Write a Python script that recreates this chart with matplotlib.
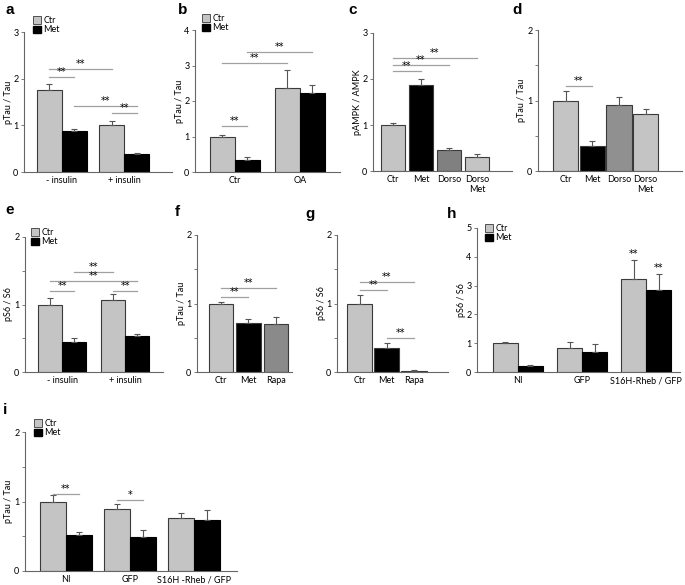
import matplotlib

matplotlib.use("Agg")
import matplotlib.pyplot as plt
import numpy as np
from matplotlib.patches import Patch

plt.rcParams["font.family"] = ["Lato", "DejaVu Sans"]

# ---- données ----
a_groups = ["- insulin", "+ insulin"]
a_ctr, a_ctr_err = [1.75, 1.00], [0.13, 0.10]
a_met, a_met_err = [0.88, 0.38], [0.05, 0.03]
a_sig = [(0, 1, 2.04, "**"), (0, 2, 2.20, "**"), (1, 3, 1.41, "**"), (2, 3, 1.26, "**")]

b_groups = ["Ctr", "OA"]
b_ctr, b_ctr_err = [1.00, 2.37], [0.05, 0.50]
b_met, b_met_err = [0.35, 2.23], [0.07, 0.23]
b_sig = [(0, 1, 1.30, "**"), (0, 2, 3.07, "**"), (1, 3, 3.38, "**")]

c_cats = ["Ctr", "Met", "Dorso", "Dorso\nMet"]
c_vals, c_errs = [1.00, 1.87, 0.45, 0.31], [0.04, 0.13, 0.05, 0.05]
c_sig = [(0, 1, 2.17, "**"), (0, 2, 2.30, "**"), (0, 3, 2.46, "**")]

d_cats = ["Ctr", "Met", "Dorso", "Dorso\nMet"]
d_vals, d_errs = [1.00, 0.35, 0.93, 0.81], [0.13, 0.08, 0.12, 0.07]
d_sig = [(0, 1, 1.21, "**")]

e_groups = ["- insulin", "+ insulin"]
e_ctr, e_ctr_err = [1.00, 1.07], [0.10, 0.08]
e_met, e_met_err = [0.45, 0.53], [0.05, 0.04]
e_sig = [(0, 1, 1.20, "**"), (2, 3, 1.20, "**"), (0, 3, 1.35, "**"), (1, 2, 1.475, "**")]

f_cats = ["Ctr", "Met", "Rapa"]
f_vals, f_errs = [1.00, 0.71, 0.70], [0.02, 0.06, 0.10]
f_sig = [(0, 1, 1.10, "**"), (0, 2, 1.23, "**")]

g_cats = ["Ctr", "Met", "Rapa"]
g_vals, g_errs = [1.00, 0.35, 0.02], [0.12, 0.08, 0.01]
g_sig = [(0, 1, 1.20, "**"), (0, 2, 1.32, "**"), (1, 2, 0.50, "**")]

h_groups = ["NI", "GFP", "S16H-Rheb / GFP"]
h_ctr, h_ctr_err = [1.00, 0.85, 3.22], [0.03, 0.18, 0.67]
h_met, h_met_err = [0.20, 0.68, 2.85], [0.03, 0.28, 0.55]
h_stars = [(4, "**"), (5, "**")]

i_groups = ["NI", "GFP", "S16H -Rheb / GFP"]
i_ctr, i_ctr_err = [1.00, 0.89, 0.76], [0.09, 0.08, 0.07]
i_met, i_met_err = [0.52, 0.49, 0.74], [0.04, 0.10, 0.14]
i_sig = [(0, 1, 1.105, "**"), (2, 3, 1.02, "*")]

# ---- style ----
LIGHT = "#c4c4c4"
MID = "#8a8a8a"
EDGE = "#3a3a3a"
AXC = "#666666"
ERR = "#555555"
SIGC = "#a0a0a0"
W, H = 685, 585


def make_ax(fig, x0, x1, ytop, ybot):
    return fig.add_axes([x0 / W, 1 - ybot / H, (x1 - x0) / W, (ybot - ytop) / H])


def style(ax, ymax, step, ylabel, xlim):
    ax.set_ylim(0, ymax)
    ax.set_xlim(*xlim)
    for s in ("top", "right"):
        ax.spines[s].set_visible(False)
    for s in ("left", "bottom"):
        ax.spines[s].set_color(AXC)
        ax.spines[s].set_linewidth(0.8)
    ticks = np.arange(0, ymax + 1e-9, step)
    ax.set_yticks(ticks)
    ax.set_yticklabels([f"{t:g}" if float(t).is_integer() else "" for t in ticks])
    ax.tick_params(axis="y", length=2.5, width=0.6, color=AXC, labelsize=6.5, pad=1.5)
    ax.tick_params(axis="x", length=0, labelsize=6.5, pad=3)
    ax.set_ylabel(ylabel, fontsize=6.5, labelpad=0.5)


def errs(ax, x, v, e):
    ax.errorbar(x, v, yerr=[np.zeros(len(v)), e], fmt="none", ecolor=ERR,
                elinewidth=0.8, capsize=2, capthick=0.8)


def grouped(ax, groups, ctr, ctr_err, met, met_err, width):
    x = np.arange(len(groups))
    xc, xm = x - width / 2, x + width / 2
    ax.bar(xc, ctr, width, color=LIGHT, edgecolor=EDGE, linewidth=0.8)
    ax.bar(xm, met, width, color="black", edgecolor="black", linewidth=0.8)
    errs(ax, xc, ctr, ctr_err)
    errs(ax, xm, met, met_err)
    ax.set_xticks(x)
    ax.set_xticklabels(groups)
    return np.column_stack([xc, xm]).ravel()


def single(ax, cats, vals, vals_err, colors, width):
    x = np.arange(len(cats))
    ax.bar(x, vals, width, color=colors, edgecolor=EDGE, linewidth=0.8)
    errs(ax, x, vals, vals_err)
    ax.set_xticks(x)
    ax.set_xticklabels(cats, linespacing=1.1)
    return x


def stars(ax, x, y, txt):
    ax.text(x, y, txt, ha="center", va="bottom", fontsize=7, family="DejaVu Sans")


def sig(ax, centers, marks):
    for i, j, y, txt in marks:
        ax.plot([centers[i], centers[j]], [y, y], color=SIGC, lw=0.9)
        stars(ax, (centers[i] + centers[j]) / 2, y, txt)


def legend(ax, fig, x, y):
    handles = [Patch(facecolor=LIGHT, edgecolor=EDGE, linewidth=0.6, label="Ctr"),
               Patch(facecolor="black", edgecolor="black", label="Met")]
    ax.legend(handles=handles, loc="upper left", bbox_to_anchor=(x / W, 1 - y / H),
              bbox_transform=fig.transFigure, frameon=False, fontsize=6.5,
              handlelength=0.9, handleheight=0.9, handletextpad=0.25,
              labelspacing=0.05, borderpad=0, borderaxespad=0)


def panel_label(fig, x, y, s):
    fig.text(x / W, 1 - y / H, s, fontsize=11, fontweight="bold",
             family="Liberation Sans", ha="center", va="center")


fig = plt.figure(figsize=(6.85, 5.85), dpi=100)

# a
ax = make_ax(fig, 24, 172, 32, 172)
c = grouped(ax, a_groups, a_ctr, a_ctr_err, a_met, a_met_err, 0.4)
sig(ax, c, a_sig)
style(ax, 3, 1, "pTau / Tau", (-0.61, 1.77))
legend(ax, fig, 33, 16)
panel_label(fig, 10, 10, "a")

# b
ax = make_ax(fig, 195, 340, 30, 172)
c = grouped(ax, b_groups, b_ctr, b_ctr_err, b_met, b_met_err, 0.385)
sig(ax, c, b_sig)
style(ax, 4, 1, "pTau / Tau", (-0.615, 1.62))
legend(ax, fig, 202, 14)
panel_label(fig, 183, 10, "b")

# c
ax = make_ax(fig, 373, 512, 33, 171)
c = single(ax, c_cats, c_vals, c_errs, [LIGHT, "black", "#808080", LIGHT], 0.87)
sig(ax, c, c_sig)
style(ax, 3, 1, "pAMPK / AMPK", (-0.71, 4.25))
panel_label(fig, 353, 10, "c")

# d
ax = make_ax(fig, 538, 682, 30, 171)
c = single(ax, d_cats, d_vals, d_errs, [LIGHT, "black", "#909090", LIGHT], 0.94)
sig(ax, c, d_sig)
style(ax, 2, 0.5, "pTau / Tau", (-1.03, 4.36))
panel_label(fig, 517, 10, "d")

# e
ax = make_ax(fig, 25, 163, 237, 372)
c = grouped(ax, e_groups, e_ctr, e_ctr_err, e_met, e_met_err, 0.38)
sig(ax, c, e_sig)
style(ax, 2, 0.5, "pS6 / S6", (-0.59, 1.6))
legend(ax, fig, 31, 228)
panel_label(fig, 10, 210, "e")

# f
ax = make_ax(fig, 197, 292, 235, 372)
c = single(ax, f_cats, f_vals, f_errs, [LIGHT, "black", MID], 0.9)
sig(ax, c, f_sig)
style(ax, 2, 0.5, "pTau / Tau", (-0.87, 2.58))
panel_label(fig, 177, 212, "f")

# g
ax = make_ax(fig, 337, 448, 235, 372)
c = single(ax, g_cats, g_vals, g_errs, [LIGHT, "black", MID], 0.92)
sig(ax, c, g_sig)
style(ax, 2, 0.5, "pS6 / S6", (-0.83, 3.25))
panel_label(fig, 310, 214, "g")

# h
ax = make_ax(fig, 477, 680, 228, 372)
c = grouped(ax, h_groups, h_ctr, h_ctr_err, h_met, h_met_err, 0.39)
tops = np.column_stack([np.add(h_ctr, h_ctr_err), np.add(h_met, h_met_err)]).ravel()
for k, txt in h_stars:
    stars(ax, c[k], tops[k] + 0.05, txt)
style(ax, 5, 1, "pS6 / S6", (-0.64, 2.53))
legend(ax, fig, 485, 224)
panel_label(fig, 452, 214, "h")

# i
ax = make_ax(fig, 25, 237, 432, 571)
c = grouped(ax, i_groups, i_ctr, i_ctr_err, i_met, i_met_err, 0.4)
sig(ax, c, i_sig)
style(ax, 2, 0.5, "pTau / Tau", (-0.64, 2.67))
legend(ax, fig, 34, 419)
panel_label(fig, 5, 410, "i")

fig.savefig("out.png", dpi=100)
